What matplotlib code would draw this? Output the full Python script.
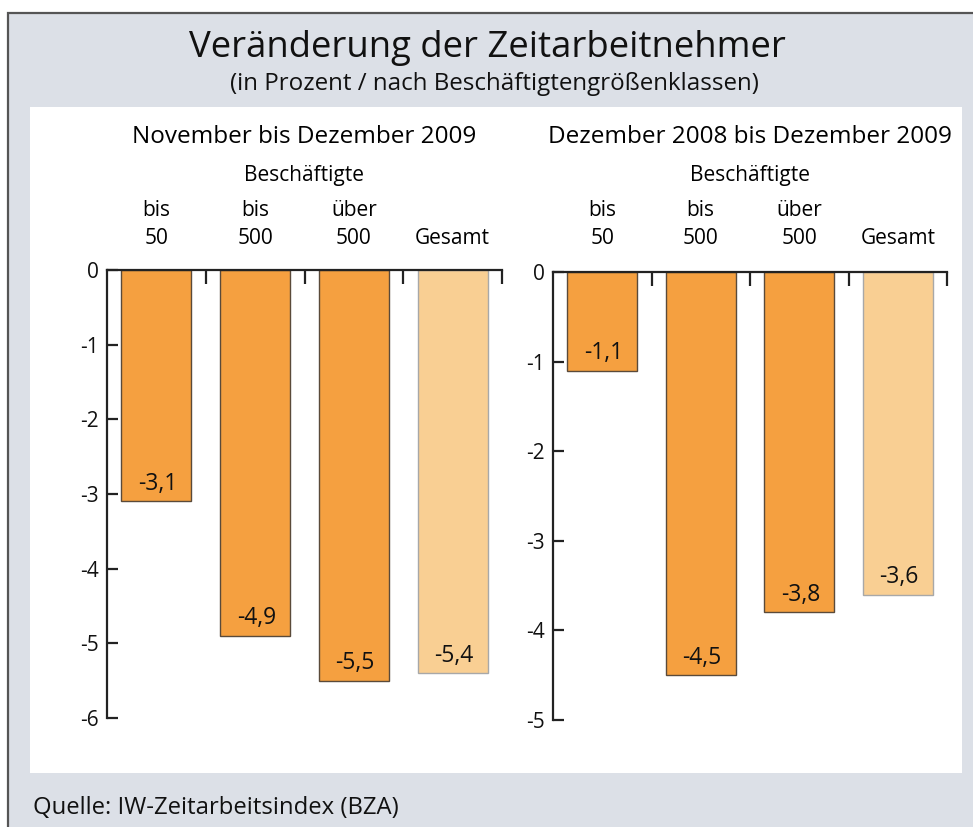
import matplotlib
matplotlib.use("Agg")
import matplotlib.pyplot as plt
from matplotlib.patches import Rectangle
from matplotlib.transforms import blended_transform_factory

plt.rcParams['font.family'] = ['Open Sans', 'DejaVu Sans']

categories_top = ["bis", "bis", "über", ""]
categories_bottom = ["50", "500", "500", "Gesamt"]
left_values = [-3.1, -4.9, -5.5, -5.4]
right_values = [-1.1, -4.5, -3.8, -3.6]
left_labels = ["-3,1", "-4,9", "-5,5", "-5,4"]
right_labels = ["-1,1", "-4,5", "-3,8", "-3,6"]
left_ticks = [0, -1, -2, -3, -4, -5, -6]
right_ticks = [0, -1, -2, -3, -4, -5]

W, H = 973, 827
fig = plt.figure(figsize=(W / 100, H / 100), dpi=100)
fig.patch.set_facecolor('white')

def fx(px):
    return px / W

def fy(py):
    return 1 - py / H

# gray frame
fig.patches.append(Rectangle((fx(8), fy(840)), fx(980) - fx(8), fy(13) - fy(840),
                             transform=fig.transFigure, facecolor='#dce0e7',
                             edgecolor='#555555', linewidth=1.6, zorder=0))
# white panel
fig.patches.append(Rectangle((fx(30), fy(773)), fx(962) - fx(30), fy(107) - fy(773),
                             transform=fig.transFigure, facecolor='white',
                             edgecolor='none', zorder=0.5))

fig.text(fx(487), fy(48), "Veränderung der Zeitarbeitnehmer", ha='center', va='center',
         fontsize=26.3, color='#111111')
fig.text(fx(494), fy(84), "(in Prozent / nach Beschäftigtengrößenklassen)", ha='center',
         va='center', fontsize=17.4, color='#111111')
fig.text(fx(33), fy(808), "Quelle: IW-Zeitarbeitsindex (BZA)", ha='left', va='center',
         fontsize=17.2, color='#111111')

orange = '#f5a040'
light = '#f9cf93'
colors = [orange, orange, orange, light]
edges = ['#5a4a3a', '#5a4a3a', '#5a4a3a', '#a8a8a8']


def make_panel(left_px, right_px, top_px, bottom_px, values, labels, ticks, ymin, title):
    ax = fig.add_axes([fx(left_px), fy(bottom_px), fx(right_px) - fx(left_px),
                       fy(top_px) - fy(bottom_px)])
    ax.set_zorder(5)
    ax.set_facecolor('none')
    x = list(range(len(values)))
    ax.bar(x, values, width=0.71, color=colors, edgecolor=edges, linewidth=1.0, zorder=2)
    ax.set_xlim(-0.5, 3.5)
    ax.set_ylim(ymin, 0)
    for s in ['right', 'bottom']:
        ax.spines[s].set_visible(False)
    for s in ['left', 'top']:
        ax.spines[s].set_linewidth(1.6)
        ax.spines[s].set_color('#222222')
        ax.spines[s].set_zorder(3)
    ax.set_yticks(ticks)
    ax.set_yticklabels([str(t) for t in ticks], fontsize=15, color='#111111')
    ax.tick_params(axis='y', direction='in', length=8, width=1.6, color='#222222', pad=6)
    ax.xaxis.set_ticks_position('top')
    ax.set_xticks([0.5, 1.5, 2.5, 3.5])
    ax.set_xticklabels([])
    ax.tick_params(axis='x', direction='in', length=10, width=1.6, color='#222222')
    for xi, v, lab in zip(x, values, labels):
        ax.annotate(lab, xy=(xi, v), xytext=(1, 4), textcoords='offset points',
                    ha='center', va='bottom', fontsize=16.5, color='#111111', zorder=4)
    tr = blended_transform_factory(ax.transData, fig.transFigure)
    for xi, t, b in zip(x, categories_top, categories_bottom):
        if t:
            ax.text(xi, fy(210), t, transform=tr, ha='center', va='center', fontsize=15)
        ax.text(xi, fy(238), b, transform=tr, ha='center', va='center', fontsize=15)
    ax.text(1.5, fy(175), "Beschäftigte", transform=tr, ha='center', va='center', fontsize=15)
    ax.text(1.5, fy(137), title, transform=tr, ha='center', va='center', fontsize=17.5)
    return ax


make_panel(107, 502, 270, 718, left_values, left_labels, left_ticks, -6,
           "November bis Dezember 2009")
make_panel(553, 947, 272, 720, right_values, right_labels, right_ticks, -5,
           "Dezember 2008 bis Dezember 2009")

fig.savefig("out.png", dpi=100, facecolor=fig.get_facecolor())
